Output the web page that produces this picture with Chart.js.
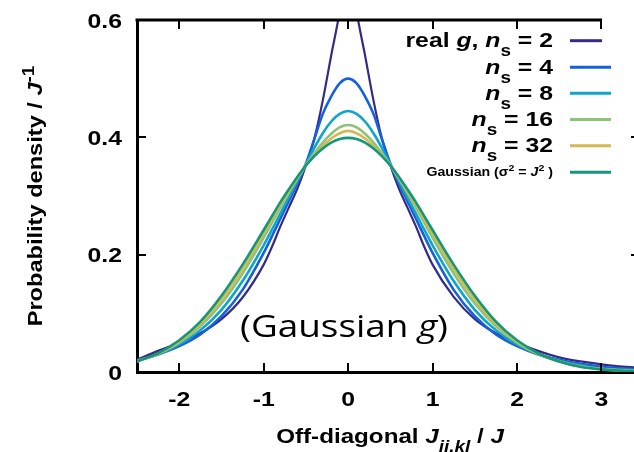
<!DOCTYPE html>
<html>
<head>
<meta charset="utf-8">
<script src="https://cdn.jsdelivr.net/npm/chart.js@4.4.1/dist/chart.umd.min.js"></script>
<style>
  html, body { margin: 0; padding: 0; background: #fff; }
  #wrap { width: 634px; height: 452px; position: relative; }
</style>
</head>
<body>
<div id="wrap"><canvas id="chart"></canvas></div>
<script>
// x grid (Off-diagonal J_ii,kl / J)
const xs = [-2.5, -2.25, -2, -1.75, -1.5, -1.25, -1, -0.9, -0.8, -0.7, -0.6, -0.5, -0.4, -0.3, -0.2, -0.1,
            0, 0.1, 0.2, 0.3, 0.4, 0.5, 0.6, 0.7, 0.8, 0.9, 1, 1.25, 1.5, 1.75, 2, 2.25, 2.5, 2.75, 3, 3.25, 3.4];

// probability density
const ns2 = [0.021, 0.036, 0.050, 0.066, 0.090, 0.127, 0.183, 0.214, 0.249, 0.281, 0.313, 0.352, 0.398, 0.463, 0.540, 0.615,
             0.720, 0.615, 0.540, 0.463, 0.398, 0.352, 0.313, 0.281, 0.249, 0.214, 0.183, 0.128, 0.090, 0.066, 0.050, 0.036, 0.025, 0.018, 0.013, 0.009, 0.008];
const ns4 = [0.020, 0.030, 0.044, 0.064, 0.095, 0.140, 0.203, 0.232, 0.262, 0.292, 0.322, 0.355, 0.397, 0.440, 0.470, 0.492,
             0.500, 0.492, 0.470, 0.440, 0.397, 0.355, 0.322, 0.292, 0.262, 0.232, 0.203, 0.140, 0.095, 0.064, 0.044, 0.030, 0.021, 0.014, 0.009, 0.006, 0.005];
const ns8 = [0.019, 0.030, 0.047, 0.071, 0.106, 0.155, 0.216, 0.243, 0.271, 0.298, 0.326, 0.354, 0.382, 0.407, 0.427, 0.440,
             0.445, 0.440, 0.427, 0.407, 0.382, 0.354, 0.326, 0.298, 0.271, 0.243, 0.216, 0.155, 0.106, 0.071, 0.047, 0.030, 0.019, 0.011, 0.006, 0.004, 0.003];
const ns16 = [0.018, 0.031, 0.050, 0.078, 0.117, 0.168, 0.229, 0.255, 0.281, 0.306, 0.330, 0.353, 0.373, 0.391, 0.406, 0.417,
              0.421, 0.417, 0.406, 0.391, 0.373, 0.353, 0.330, 0.306, 0.281, 0.255, 0.229, 0.168, 0.117, 0.078, 0.050, 0.031, 0.018, 0.010, 0.005, 0.003, 0.002];
const ns32 = [0.018, 0.031, 0.052, 0.082, 0.124, 0.176, 0.236, 0.261, 0.286, 0.309, 0.331, 0.352, 0.369, 0.385, 0.398, 0.407,
              0.411, 0.407, 0.398, 0.385, 0.369, 0.352, 0.331, 0.309, 0.286, 0.261, 0.236, 0.176, 0.124, 0.082, 0.052, 0.031, 0.018, 0.009, 0.005, 0.002, 0.0015];
const gauss = [0.018, 0.032, 0.054, 0.086, 0.130, 0.183, 0.242, 0.266, 0.290, 0.312, 0.333, 0.352, 0.368, 0.381, 0.391, 0.397,
               0.399, 0.397, 0.391, 0.381, 0.368, 0.352, 0.333, 0.312, 0.290, 0.266, 0.242, 0.183, 0.130, 0.086, 0.054, 0.032, 0.018, 0.009, 0.0044, 0.002, 0.0012];

const seriesNames = ['real g, ns = 2', 'ns = 4', 'ns = 8', 'ns = 16', 'ns = 32', 'Gaussian (σ2 = J2)'];
const seriesData = [ns2, ns4, ns8, ns16, ns32, gauss];
const colors = ['#352a87', '#1560dc', '#0ea5cb', '#8cc27a', '#d4b850', '#12977b'];

const xTicks = [-2, -1, 0, 1, 2, 3];
const yTicks = [0, 0.2, 0.4, 0.6];
const yTickLabels = ['0', '0.2', '0.4', '0.6'];

const FONT = '"Liberation Sans", Arial, sans-serif';
const SX = 1.18; // text in the picture is wider than Arial

function fontOf(p, base) {
    const size = (p.sub || p.sup) ? Math.round(base * 0.78) : base;
    return (p.italic ? 'italic ' : '') + 'bold ' + size + 'px ' + FONT;
}

// draws a line of text made of parts (italic / sub / sup)
function richText(ctx, parts, x, y, align, base, rot) {
    let w = 0;
    parts.forEach(p => { ctx.font = fontOf(p, base); w += ctx.measureText(p.t).width; });
    ctx.save();
    ctx.translate(x, y);
    if (rot) ctx.rotate(rot);
    ctx.scale(SX, 1);
    ctx.fillStyle = '#000';
    ctx.textBaseline = 'alphabetic';
    ctx.textAlign = 'left';
    let cx = align === 'right' ? -w : (align === 'center' ? -w / 2 : 0);
    parts.forEach(p => {
        ctx.font = fontOf(p, base);
        const dy = p.sub ? base * 0.42 : (p.sup ? -base * 0.42 : 0);
        ctx.fillText(p.t, cx, dy);
        cx += ctx.measureText(p.t).width;
    });
    ctx.restore();
}

const legendParts = [
    [{t: 'real '}, {t: 'g', italic: true}, {t: ', '}, {t: 'n', italic: true}, {t: 's', sub: true}, {t: ' = 2'}],
    [{t: 'n', italic: true}, {t: 's', sub: true}, {t: ' = 4'}],
    [{t: 'n', italic: true}, {t: 's', sub: true}, {t: ' = 8'}],
    [{t: 'n', italic: true}, {t: 's', sub: true}, {t: ' = 16'}],
    [{t: 'n', italic: true}, {t: 's', sub: true}, {t: ' = 32'}],
    [{t: 'Gaussian ('}, {t: 'σ'}, {t: '2', sup: true}, {t: ' = '}, {t: 'J', italic: true}, {t: '2', sup: true}, {t: ' )'}]
];

const decoPlugin = {
    id: 'deco',
    afterDraw(chart) {
        const ctx = chart.ctx;
        const area = chart.chartArea;
        const xs_ = chart.scales.x;
        const ys_ = chart.scales.y;

        ctx.save();
        ctx.strokeStyle = '#000';
        // top border (the picture is cut at the right)
        ctx.lineWidth = 3;
        ctx.beginPath();
        ctx.moveTo(area.left - 1.5, area.top);
        ctx.lineTo(602, area.top);
        ctx.stroke();

        // inward ticks
        ctx.lineWidth = 2;
        xTicks.forEach(v => {
            const px = Math.round(xs_.getPixelForValue(v));
            ctx.beginPath();
            ctx.moveTo(px, area.bottom);
            ctx.lineTo(px, area.bottom - 9);
            ctx.moveTo(px, area.top);
            ctx.lineTo(px, area.top + 9);
            ctx.stroke();
        });
        yTicks.slice(1, 3).forEach(v => {
            const py = Math.round(ys_.getPixelForValue(v));
            ctx.beginPath();
            ctx.moveTo(area.left, py);
            ctx.lineTo(area.left + 9, py);
            ctx.moveTo(area.right, py);
            ctx.lineTo(area.right - 3, py);
            ctx.stroke();
        });
        ctx.restore();

        // tick labels
        xTicks.forEach(v => {
            richText(ctx, [{t: String(v)}], xs_.getPixelForValue(v), area.bottom + 34, 'center', 21);
        });
        yTicks.forEach((v, i) => {
            richText(ctx, [{t: yTickLabels[i]}], 122, ys_.getPixelForValue(v) + 7.5, 'right', 21);
        });

        // axis titles
        richText(ctx, [{t: 'Off-diagonal '}, {t: 'J', italic: true}, {t: 'ii,kl', italic: true, sub: true}, {t: ' / '}, {t: 'J', italic: true}],
            390, 443, 'center', 20.5);
        richText(ctx, [{t: 'Probability density / '}, {t: 'J', italic: true}, {t: '-1', sup: true}],
            42, (area.top + area.bottom) / 2, 'center', 20, -Math.PI / 2);

        // legend
        const rowY = [40.7, 67.3, 93.3, 119.5, 145.7, 172.3];
        legendParts.forEach((parts, i) => {
            const small = i === 5;
            richText(ctx, parts, 553, rowY[i] + (small ? 4 : 6.5), 'right', small ? 12 : 21);
            ctx.save();
            ctx.strokeStyle = colors[i];
            ctx.lineWidth = 3;
            ctx.beginPath();
            ctx.moveTo(570, rowY[i]);
            ctx.lineTo(i === 0 ? 602 : 611, rowY[i]);
            ctx.stroke();
            ctx.restore();
        });

        // annotation
        ctx.save();
        const aFont = '31px "Open Sans", Lato, sans-serif';
        const aItal = 'italic 31px "Open Sans", Lato, sans-serif';
        const a1 = '(Gaussian ', a2 = 'g', a3 = ')';
        ctx.font = aFont;
        const w1 = ctx.measureText(a1).width;
        const w3 = ctx.measureText(a3).width;
        ctx.font = aItal;
        const w2 = ctx.measureText(a2).width;
        const sx = 208 / (w1 + w2 + w3);
        ctx.translate(240, 337);
        ctx.scale(sx, 1);
        ctx.fillStyle = '#000';
        ctx.textBaseline = 'alphabetic';
        ctx.font = aFont;
        ctx.fillText(a1, 0, 0);
        ctx.font = aItal;
        ctx.fillText(a2, w1, 0);
        ctx.font = aFont;
        ctx.fillText(a3, w1 + w2, 0);
        ctx.restore();
    }
};

const datasets = seriesData.map((vals, i) => ({
    label: seriesNames[i],
    data: xs.map((x, k) => ({x: x, y: vals[k]})),
    borderColor: colors[i],
    borderWidth: i === 0 ? 2.2 : 2.6,
    pointRadius: 0,
    fill: false,
    cubicInterpolationMode: 'monotone',
    order: seriesData.length - i
}));

const chart = new Chart(document.getElementById('chart').getContext('2d'), {
    type: 'line',
    data: { datasets: datasets },
    options: {
        responsive: true,
        maintainAspectRatio: false,
        animation: false,
        layout: { padding: { top: 20, right: 0, left: 0, bottom: 0 } },
        plugins: {
            legend: { display: false },
            tooltip: { enabled: false }
        },
        scales: {
            x: {
                type: 'linear',
                min: -2.5,
                max: 3.385,
                ticks: { display: false },
                grid: { display: false },
                border: { display: true, color: '#000', width: 3 },
                afterFit: s => { s.height = 80; }
            },
            y: {
                min: 0,
                max: 0.6,
                ticks: { display: false },
                grid: { display: false },
                border: { display: true, color: '#000', width: 3 },
                afterFit: s => { s.width = 137; }
            }
        }
    },
    plugins: [decoPlugin]
});
</script>
</body>
</html>
